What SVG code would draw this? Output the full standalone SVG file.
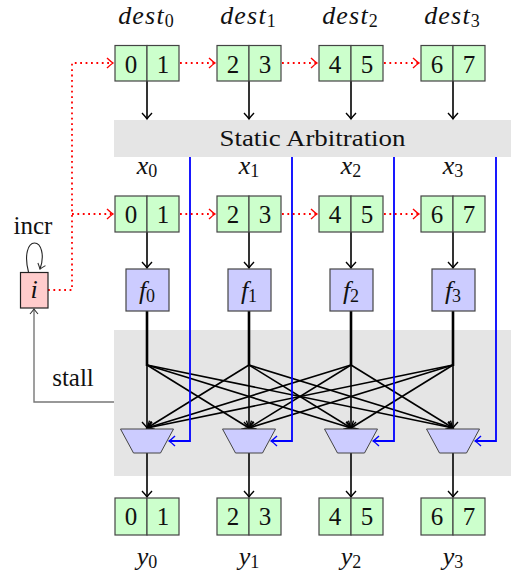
<svg xmlns="http://www.w3.org/2000/svg" width="511" height="577" viewBox="0 0 511 577">
<style>
.cell{fill:#ccffcc;stroke:#444;stroke-width:1.2}
.fbox{fill:#ccccff;stroke:#444;stroke-width:1.2}
.ibox{fill:#ffcccc;stroke:#222;stroke-width:1.2}
.mux{fill:#ccccff;stroke:#444;stroke-width:1}
.band{fill:#e5e5e5}
text{font-family:"Liberation Serif","Times New Roman",serif;fill:#111}
.num{font-size:25px;text-anchor:middle}
.math{font-style:italic;font-size:26px;text-anchor:middle}
.ls{letter-spacing:1.2px}
.sub{font-style:normal;font-size:18px;letter-spacing:0}
.blk{stroke:#000;stroke-width:1.6;fill:none}
.red{stroke:#ff0000;stroke-width:1.8;fill:none;stroke-dasharray:1.8 3.6}
.blue{stroke:#0000ff;stroke-width:1.8;fill:none}
.gry{stroke:#777;stroke-width:1.4;fill:none}
</style>
<defs>
<marker id="ak" markerUnits="userSpaceOnUse" markerWidth="14" markerHeight="14" refX="0" refY="0" viewBox="-8 -7 10 14" orient="auto" overflow="visible"><path d="M-6,-5 Q-2,-1.2 0,0 Q-2,1.2 -6,5" fill="none" stroke="#000" stroke-width="1.4"/></marker>
<marker id="ar" markerUnits="userSpaceOnUse" markerWidth="14" markerHeight="14" refX="0" refY="0" viewBox="-8 -7 10 14" orient="auto" overflow="visible"><path d="M-6,-5 Q-2,-1.2 0,0 Q-2,1.2 -6,5" fill="none" stroke="#ff0000" stroke-width="1.4"/></marker>
<marker id="ab" markerUnits="userSpaceOnUse" markerWidth="14" markerHeight="14" refX="0" refY="0" viewBox="-8 -7 10 14" orient="auto" overflow="visible"><path d="M-6,-5 Q-2,-1.2 0,0 Q-2,1.2 -6,5" fill="none" stroke="#0000ff" stroke-width="1.4"/></marker>
<marker id="ag" markerUnits="userSpaceOnUse" markerWidth="14" markerHeight="14" refX="0" refY="0" viewBox="-8 -7 10 14" orient="auto" overflow="visible"><path d="M-5,-4 Q-1.5,-1 0,0 Q-1.5,1 -5,4" fill="none" stroke="#333" stroke-width="1.1"/></marker>
</defs>

<g id="backgrounds">
<rect class="band" x="114" y="120" width="397" height="37"/>
<rect class="band" x="114" y="330" width="397" height="146"/>
<text x="312.5" y="146" font-size="24" text-anchor="middle" textLength="186" lengthAdjust="spacingAndGlyphs">Static Arbitration</text>
</g>

<g id="connectors">
<line class="blk" x1="147" y1="81" x2="147" y2="119" marker-end="url(#ak)"/>
<line class="blk" x1="249" y1="81" x2="249" y2="119" marker-end="url(#ak)"/>
<line class="blk" x1="351" y1="81" x2="351" y2="119" marker-end="url(#ak)"/>
<line class="blk" x1="453" y1="81" x2="453" y2="119" marker-end="url(#ak)"/>
<line class="blk" x1="147" y1="232" x2="147" y2="268" marker-end="url(#ak)"/>
<line class="blk" x1="249" y1="232" x2="249" y2="268" marker-end="url(#ak)"/>
<line class="blk" x1="351" y1="232" x2="351" y2="268" marker-end="url(#ak)"/>
<line class="blk" x1="453" y1="232" x2="453" y2="268" marker-end="url(#ak)"/>
<line x1="147" y1="311" x2="147" y2="366" stroke="#000" stroke-width="2.6"/>
<line x1="249" y1="311" x2="249" y2="366" stroke="#000" stroke-width="2.6"/>
<line x1="351" y1="311" x2="351" y2="366" stroke="#000" stroke-width="2.6"/>
<line x1="453" y1="311" x2="453" y2="366" stroke="#000" stroke-width="2.6"/>
<g class="fan">
<line class="blk" x1="147" y1="365" x2="147" y2="428" marker-end="url(#ak)"/>
<line class="blk" x1="147" y1="365" x2="249" y2="428" marker-end="url(#ak)"/>
<line class="blk" x1="147" y1="365" x2="351" y2="428" marker-end="url(#ak)"/>
<line class="blk" x1="147" y1="365" x2="453" y2="428" marker-end="url(#ak)"/>
<line class="blk" x1="249" y1="365" x2="147" y2="428" marker-end="url(#ak)"/>
<line class="blk" x1="249" y1="365" x2="249" y2="428" marker-end="url(#ak)"/>
<line class="blk" x1="249" y1="365" x2="351" y2="428" marker-end="url(#ak)"/>
<line class="blk" x1="249" y1="365" x2="453" y2="428" marker-end="url(#ak)"/>
<line class="blk" x1="351" y1="365" x2="147" y2="428" marker-end="url(#ak)"/>
<line class="blk" x1="351" y1="365" x2="249" y2="428" marker-end="url(#ak)"/>
<line class="blk" x1="351" y1="365" x2="351" y2="428" marker-end="url(#ak)"/>
<line class="blk" x1="351" y1="365" x2="453" y2="428" marker-end="url(#ak)"/>
<line class="blk" x1="453" y1="365" x2="147" y2="428" marker-end="url(#ak)"/>
<line class="blk" x1="453" y1="365" x2="249" y2="428" marker-end="url(#ak)"/>
<line class="blk" x1="453" y1="365" x2="351" y2="428" marker-end="url(#ak)"/>
<line class="blk" x1="453" y1="365" x2="453" y2="428" marker-end="url(#ak)"/>
</g>
<line class="blk" x1="147" y1="453" x2="147" y2="497" marker-end="url(#ak)"/>
<line class="blk" x1="249" y1="453" x2="249" y2="497" marker-end="url(#ak)"/>
<line class="blk" x1="351" y1="453" x2="351" y2="497" marker-end="url(#ak)"/>
<line class="blk" x1="453" y1="453" x2="453" y2="497" marker-end="url(#ak)"/>
<polyline class="blue" points="190,157 190,441 169,441" marker-end="url(#ab)"/>
<polyline class="blue" points="292,157 292,441 271,441" marker-end="url(#ab)"/>
<polyline class="blue" points="394,157 394,441 373,441" marker-end="url(#ab)"/>
<polyline class="blue" points="496,157 496,441 475,441" marker-end="url(#ab)"/>
<polyline class="red" points="48,290 72,290 72,63 113,63" marker-end="url(#ar)"/>
<polyline class="red" points="72,214 113,214" marker-end="url(#ar)"/>
<line class="red" x1="180" y1="63" x2="215" y2="63" marker-end="url(#ar)"/>
<line class="red" x1="282" y1="63" x2="317" y2="63" marker-end="url(#ar)"/>
<line class="red" x1="384" y1="63" x2="419" y2="63" marker-end="url(#ar)"/>
<line class="red" x1="180" y1="214" x2="215" y2="214" marker-end="url(#ar)"/>
<line class="red" x1="282" y1="214" x2="317" y2="214" marker-end="url(#ar)"/>
<line class="red" x1="384" y1="214" x2="419" y2="214" marker-end="url(#ar)"/>
<polyline class="gry" points="114,402 34,402 34,309" marker-end="url(#ag)"/>
<path d="M28.5,272 C24,255 28,243 34.5,243 C41,243 45,255 40,269" fill="none" stroke="#222" stroke-width="1.1" marker-end="url(#ag)"/>
</g>

<g id="labels-dest">
<text class="math ls" x="146" y="24">dest<tspan class="sub" dy="3">0</tspan></text>
<text class="math ls" x="248" y="24">dest<tspan class="sub" dy="3">1</tspan></text>
<text class="math ls" x="350" y="24">dest<tspan class="sub" dy="3">2</tspan></text>
<text class="math ls" x="452" y="24">dest<tspan class="sub" dy="3">3</tspan></text>
</g>
<g id="labels-x">
<text class="math" x="147" y="174">x<tspan class="sub" dy="3">0</tspan></text>
<text class="math" x="249" y="174">x<tspan class="sub" dy="3">1</tspan></text>
<text class="math" x="351" y="174">x<tspan class="sub" dy="3">2</tspan></text>
<text class="math" x="453" y="174">x<tspan class="sub" dy="3">3</tspan></text>
</g>
<g id="labels-y">
<text class="math" x="147" y="565">y<tspan class="sub" dy="3">0</tspan></text>
<text class="math" x="249" y="565">y<tspan class="sub" dy="3">1</tspan></text>
<text class="math" x="351" y="565">y<tspan class="sub" dy="3">2</tspan></text>
<text class="math" x="453" y="565">y<tspan class="sub" dy="3">3</tspan></text>
</g>

<g id="dest0"><rect class="cell" x="115" y="45.5" width="32" height="35.5"/><rect class="cell" x="147" y="45.5" width="32" height="35.5"/><text class="num" x="131" y="72.5">0</text><text class="num" x="163" y="72.5">1</text></g>
<g id="dest1"><rect class="cell" x="217" y="45.5" width="32" height="35.5"/><rect class="cell" x="249" y="45.5" width="32" height="35.5"/><text class="num" x="233" y="72.5">2</text><text class="num" x="265" y="72.5">3</text></g>
<g id="dest2"><rect class="cell" x="319" y="45.5" width="32" height="35.5"/><rect class="cell" x="351" y="45.5" width="32" height="35.5"/><text class="num" x="335" y="72.5">4</text><text class="num" x="367" y="72.5">5</text></g>
<g id="dest3"><rect class="cell" x="421" y="45.5" width="32" height="35.5"/><rect class="cell" x="453" y="45.5" width="32" height="35.5"/><text class="num" x="437" y="72.5">6</text><text class="num" x="469" y="72.5">7</text></g>

<g id="x0"><rect class="cell" x="115" y="196" width="32" height="36"/><rect class="cell" x="147" y="196" width="32" height="36"/><text class="num" x="131" y="223">0</text><text class="num" x="163" y="223">1</text></g>
<g id="x1"><rect class="cell" x="217" y="196" width="32" height="36"/><rect class="cell" x="249" y="196" width="32" height="36"/><text class="num" x="233" y="223">2</text><text class="num" x="265" y="223">3</text></g>
<g id="x2"><rect class="cell" x="319" y="196" width="32" height="36"/><rect class="cell" x="351" y="196" width="32" height="36"/><text class="num" x="335" y="223">4</text><text class="num" x="367" y="223">5</text></g>
<g id="x3"><rect class="cell" x="421" y="196" width="32" height="36"/><rect class="cell" x="453" y="196" width="32" height="36"/><text class="num" x="437" y="223">6</text><text class="num" x="469" y="223">7</text></g>

<g id="f0"><rect class="fbox" x="126" y="269" width="43" height="42"/><text class="math" x="147" y="299">f<tspan class="sub" dy="3">0</tspan></text></g>
<g id="f1"><rect class="fbox" x="228" y="269" width="43" height="42"/><text class="math" x="249" y="299">f<tspan class="sub" dy="3">1</tspan></text></g>
<g id="f2"><rect class="fbox" x="330" y="269" width="43" height="42"/><text class="math" x="351" y="299">f<tspan class="sub" dy="3">2</tspan></text></g>
<g id="f3"><rect class="fbox" x="432" y="269" width="43" height="42"/><text class="math" x="453" y="299">f<tspan class="sub" dy="3">3</tspan></text></g>

<g id="mux0"><polygon class="mux" points="120.5,429 173.5,429 160.5,453 133.5,453"/></g>
<g id="mux1"><polygon class="mux" points="222.5,429 275.5,429 262.5,453 235.5,453"/></g>
<g id="mux2"><polygon class="mux" points="324.5,429 377.5,429 364.5,453 337.5,453"/></g>
<g id="mux3"><polygon class="mux" points="426.5,429 479.5,429 466.5,453 439.5,453"/></g>

<g id="y0"><rect class="cell" x="115" y="498" width="32" height="37"/><rect class="cell" x="147" y="498" width="32" height="37"/><text class="num" x="131" y="525">0</text><text class="num" x="163" y="525">1</text></g>
<g id="y1"><rect class="cell" x="217" y="498" width="32" height="37"/><rect class="cell" x="249" y="498" width="32" height="37"/><text class="num" x="233" y="525">2</text><text class="num" x="265" y="525">3</text></g>
<g id="y2"><rect class="cell" x="319" y="498" width="32" height="37"/><rect class="cell" x="351" y="498" width="32" height="37"/><text class="num" x="335" y="525">4</text><text class="num" x="367" y="525">5</text></g>
<g id="y3"><rect class="cell" x="421" y="498" width="32" height="37"/><rect class="cell" x="453" y="498" width="32" height="37"/><text class="num" x="437" y="525">6</text><text class="num" x="469" y="525">7</text></g>

<g id="i"><rect class="ibox" x="20.5" y="272.5" width="27.5" height="35.5"/><text class="math" x="34" y="298">i</text></g>
<g id="incr-label"><text x="33" y="234" font-size="25" text-anchor="middle">incr</text></g>
<g id="stall-label"><text x="73" y="386" font-size="25" text-anchor="middle">stall</text></g>
</svg>
